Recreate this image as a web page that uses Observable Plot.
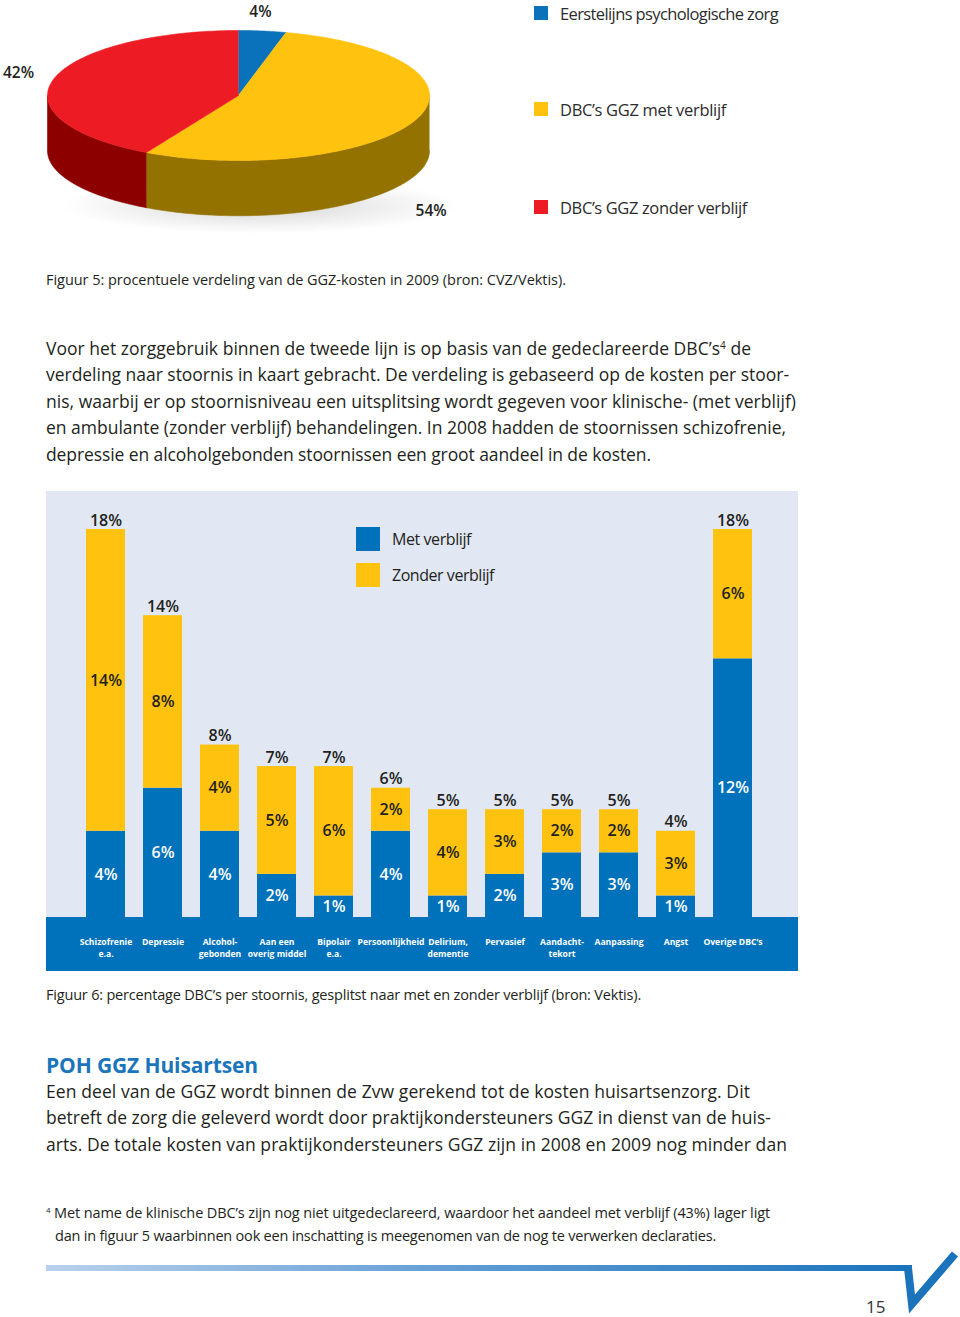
<!DOCTYPE html>
<html><head><meta charset="utf-8">
<script src="https://cdn.jsdelivr.net/npm/d3@7"></script>
<script src="https://cdn.jsdelivr.net/npm/@observablehq/plot@0.6"></script>
<style>
body{margin:0;background:#fff;}
#page{position:relative;width:960px;height:1317px;overflow:hidden;font-family:"Open Sans",sans-serif;color:#231f20;}
.t{position:absolute;white-space:nowrap;}
.abs{position:absolute;}
sup{font-size:10px;line-height:0;vertical-align:0.6em;}
</style></head><body><div id="page"></div>
<script>
// ---------- DATA ----------
const pieLabels = ["Eerstelijns psychologische zorg", "DBC’s GGZ met verblijf", "DBC’s GGZ zonder verblijf"];
const pieValues = [4, 54, 42];
const pieTopColors = ["#0a72bb", "#ffc20e", "#ed1c24"];
const pieSideColors = ["#06416b", "#947200", "#8c0000"];

const categories = ["Schizofrenie\ne.a.", "Depressie", "Alcohol-\ngebonden", "Aan een\noverig middel", "Bipolair\ne.a.", "Persoonlijkheid", "Delirium,\ndementie", "Pervasief", "Aandacht-\ntekort", "Aanpassing", "Angst", "Overige DBC’s"];
const metVerblijf = [4, 6, 4, 2, 1, 4, 1, 2, 3, 3, 1, 12];
const zonderVerblijf = [14, 8, 4, 5, 6, 2, 4, 3, 2, 2, 3, 6];
const totals = [18, 14, 8, 7, 7, 6, 5, 5, 5, 5, 4, 18];
const seriesNames = ["Met verblijf", "Zonder verblijf"];
const seriesColors = ["#0072bc", "#ffc20e"];
const seriesLabelColors = ["#ffffff", "#231f20"];

const page = document.getElementById("page");
function addText(txt, x, cy, size, opts = {}) {
  const d = document.createElement("div");
  d.className = "t";
  const lh = opts.lh || Math.round(size * 1.4);
  d.style.left = x + "px";
  d.style.top = (cy - lh / 2) + "px";
  d.style.fontSize = size + "px";
  d.style.lineHeight = lh + "px";
  if (opts.weight) d.style.fontWeight = opts.weight;
  if (opts.color) d.style.color = opts.color;
  if (opts.html) d.innerHTML = txt; else d.textContent = txt;
  page.appendChild(d);
  if (opts.w) {
    const w = d.getBoundingClientRect().width;
    const n = d.textContent.length;
    d.style.letterSpacing = ((opts.w - w) / n) + "px";
  }
  return d;
}
function addBox(x, y, w, h, bg, extra = "") {
  const d = document.createElement("div");
  d.className = "abs";
  d.style.cssText = `left:${x}px;top:${y}px;width:${w}px;height:${h}px;background:${bg};${extra}`;
  page.appendChild(d);
  return d;
}

// ---------- PIE (3D) ----------
const pieArcs = d3.pie().sort(null).value(d => d)(pieValues);
const DEPTH = 0.85;
const polys = [];
function arcPts(a0, a1, dy, id, color, out) {
  const n = Math.max(2, Math.ceil(Math.abs(a1 - a0) / 0.02));
  for (let i = 0; i <= n; i++) {
    const a = a0 + (a1 - a0) * i / n;
    out.push({id, color, x: Math.sin(a), y: Math.cos(a) + dy});
  }
}
pieArcs.forEach((a, i) => {
  const lo = Math.max(a.startAngle, Math.PI / 2), hi = Math.min(a.endAngle, 3 * Math.PI / 2);
  if (lo < hi) {
    const pts = [];
    arcPts(lo, hi, 0, "side" + i, pieSideColors[i], pts);
    arcPts(hi, lo, -DEPTH, "side" + i, pieSideColors[i], pts);
    polys.push(...pts);
  }
});
pieArcs.forEach((a, i) => {
  const pts = [{id: "top" + i, color: pieTopColors[i], x: 0, y: 0}];
  arcPts(a.startAngle, a.endAngle, 0, "top" + i, pieTopColors[i], pts);
  polys.push(...pts);
});
const pieLabelData = pieArcs.map((a, i) => {
  const m = (a.startAngle + a.endAngle) / 2;
  const onSide = m > Math.PI / 2 && m < 3 * Math.PI / 2;
  return {i, text: pieValues[i] + "%", x: Math.sin(m), y: Math.cos(m) - (onSide ? DEPTH : 0)};
});
const pieLabelStyle = {fontSize: 15.5, fontWeight: 600, fill: "#231f20", letterSpacing: "1px"};

// soft shadow
addBox(60, 178, 400, 56, "radial-gradient(ellipse at center, rgba(0,0,0,0.16) 0%, rgba(0,0,0,0.06) 45%, rgba(0,0,0,0) 70%)");

const pieSvg = Plot.plot({
  width: 480, height: 240,
  margin: 0,
  x: {domain: [-1, 1], range: [47, 429], axis: null},
  y: {domain: [-1, 1], range: [160, 30], axis: null},
  color: {type: "identity"},
  style: {background: "transparent", fontFamily: "Open Sans", overflow: "visible"},
  marks: [
    Plot.line(polys, {x: "x", y: "y", z: "id", fill: "color", stroke: "color", strokeWidth: 0.6, curve: "linear"}),
    Plot.text(pieLabelData.filter(d => d.i === 0), {x: "x", y: "y", text: "text", dx: -2, dy: -19, ...pieLabelStyle}),
    Plot.text(pieLabelData.filter(d => d.i === 1), {x: "x", y: "y", text: "text", dx: 15, dy: 36, ...pieLabelStyle}),
    Plot.text(pieLabelData.filter(d => d.i === 2), {x: "x", y: "y", text: "text", dx: -35, dy: -6, ...pieLabelStyle})
  ]
});
pieSvg.style.position = "absolute";
pieSvg.style.left = "0px";
pieSvg.style.top = "0px";
page.appendChild(pieSvg);

// pie legend
const pieLegendY = [13, 109, 207];
pieLabels.forEach((l, i) => {
  addBox(534, pieLegendY[i] - 7, 14, 14, pieTopColors[i]);
  addText(l, 560, pieLegendY[i], 16.5, {w: [218, 166, 187][i], color: "#2b2b2b"});
});

// ---------- TEXT ----------
addText("Figuur 5: procentuele verdeling van de GGZ-kosten in 2009 (bron: CVZ/Vektis).", 46, 280, 14.5, {w: 520});
const para1 = [
  ["Voor het zorggebruik binnen de tweede lijn is op basis van de gedeclareerde DBC’s<sup>4</sup> de", 705],
  ["verdeling naar stoornis in kaart gebracht. De verdeling is gebaseerd op de kosten per stoor-", 743],
  ["nis, waarbij er op stoornisniveau een uitsplitsing wordt gegeven voor klinische- (met verblijf)", 750],
  ["en ambulante (zonder verblijf) behandelingen. In 2008 hadden de stoornissen schizofrenie,", 740],
  ["depressie en alcoholgebonden stoornissen een groot aandeel in de kosten.", 605]
];
para1.forEach(([t, w], i) => addText(t, 46, 348 + i * 26.4, 17.5, {w, html: true, lh: 26}));

// ---------- BAR CHART ----------
addBox(46, 491, 752, 480, "#e1e7f3");
addBox(46, 917, 752, 54, "#0072bc");

const rows = [];
seriesNames.forEach((s, k) => {
  const vals = k === 0 ? metVerblijf : zonderVerblijf;
  categories.forEach((c, i) => rows.push({cat: c, series: s, value: vals[i], color: seriesColors[k], labelColor: seriesLabelColors[k]}));
});
const totalRows = categories.map((c, i) => ({cat: c, total: totals[i]}));
const valueStyle = {fontSize: 16, fontWeight: 600, letterSpacing: "1.5px"};

const barSvg = Plot.plot({
  width: 752, height: 480,
  marginLeft: 21, marginRight: 28, marginTop: 38, marginBottom: 54,
  x: {domain: categories, padding: 0.317, axis: null},
  y: {domain: [0, 18], axis: null},
  color: {type: "identity"},
  style: {background: "transparent", fontFamily: "Open Sans", overflow: "visible"},
  marks: [
    Plot.barY(rows, {x: "cat", y: "value", z: "series", fill: "color"}),
    Plot.text(rows, Plot.stackY({x: "cat", y: "value", z: "series", text: d => d.value + "%", fill: "labelColor", ...valueStyle})),
    Plot.text(totalRows, {x: "cat", y: "total", text: d => d.total + "%", dy: -9, fill: "#231f20", ...valueStyle}),
    Plot.axisX({tickSize: 0, tickPadding: 19, color: "white", fontSize: 8.6, fontWeight: 700, lineHeight: 1.4, label: null})
  ]
});
barSvg.style.position = "absolute";
barSvg.style.left = "46px";
barSvg.style.top = "491px";
page.appendChild(barSvg);

// bar legend
addBox(356, 527, 24, 24, seriesColors[0]);
addBox(356, 563, 24, 24, seriesColors[1]);
addText(seriesNames[0], 392, 539, 16, {w: 79});
addText(seriesNames[1], 392, 575, 16, {w: 102});

addText("Figuur 6: percentage DBC’s per stoornis, gesplitst naar met en zonder verblijf (bron: Vektis).", 46, 995, 14.5, {w: 595});

addText("POH GGZ Huisartsen", 46, 1065, 21, {weight: 700, color: "#1a75bb", w: 212});
const para2 = [
  ["Een deel van de GGZ wordt binnen de Zvw gerekend tot de kosten huisartsenzorg. Dit", 704],
  ["betreft de zorg die geleverd wordt door praktijkondersteuners GGZ in dienst van de huis-", 725],
  ["arts. De totale kosten van praktijkondersteuners GGZ zijn in 2008 en 2009 nog minder dan", 741]
];
para2.forEach(([t, w], i) => addText(t, 46, 1091 + i * 26.4, 17.5, {w, lh: 26}));

addText("<sup style='font-size:8px'>4</sup> Met name de klinische DBC’s zijn nog niet uitgedeclareerd, waardoor het aandeel met verblijf (43%) lager ligt", 46, 1213, 14.5, {w: 724, html: true});
addText("dan in figuur 5 waarbinnen ook een inschatting is meegenomen van de nog te verwerken declaraties.", 55, 1236, 14.5, {w: 661});

// ---------- FOOTER DECORATION ----------
const ns = "http://www.w3.org/2000/svg";
const deco = document.createElementNS(ns, "svg");
deco.setAttribute("width", 960); deco.setAttribute("height", 1317);
deco.style.cssText = "position:absolute;left:0;top:0;pointer-events:none;";
deco.innerHTML = `<defs><linearGradient id="g" x1="0" x2="1"><stop offset="0" stop-color="#b9d1ec"/><stop offset="0.5" stop-color="#5d9ad3"/><stop offset="1" stop-color="#1a73bb"/></linearGradient></defs>
<rect x="46" y="1265" width="866" height="6" fill="url(#g)"/>
<polyline points="908,1268 912,1304 955,1254" fill="none" stroke="#1a73bb" stroke-width="8" stroke-linejoin="miter"/>`;
page.appendChild(deco);
addText("15", 866, 1307, 17, {color: "#333"});
</script></body></html>
